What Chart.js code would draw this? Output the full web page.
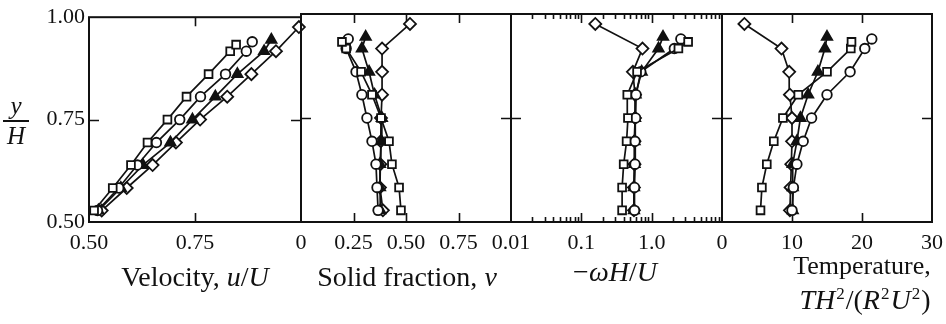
<!DOCTYPE html>
<html>
<head>
<meta charset="utf-8">
<script src="https://cdn.jsdelivr.net/npm/chart.js@4.4.1/dist/chart.umd.min.js"></script>
<style>
  html, body { margin: 0; padding: 0; background: #fff; }
  #figure { position: relative; width: 946px; height: 324px; overflow: hidden;
    font-family: 'Liberation Serif', 'Times New Roman', serif; color: #111; }
  #figure canvas { position: absolute; left: 0; top: 0; }
  .title { position: absolute; font-size: 28px; line-height: 28px; white-space: nowrap; transform: translateX(-50%); }
  .title sup { font-size: 17px; vertical-align: 10px; line-height: 0; padding: 0 1px; }
  .frac { position: absolute; left: 3px; top: 94px; width: 26px; text-align: center;
    font-size: 25px; font-style: italic; line-height: 24px; }
  .frac .bar { height: 2px; background: #111; margin: 2px 0 2px 0; }
</style>
</head>
<body>
<div id="figure">
  <canvas id="velocity" width="1000" height="324"></canvas>
  <canvas id="solid" width="1000" height="324"></canvas>
  <canvas id="spin" width="1000" height="324"></canvas>
  <canvas id="temp" width="1000" height="324"></canvas>

  <div class="frac"><div>y</div><div class="bar"></div><div>H</div></div>
  <div class="title" style="left:195px; top:263px">Velocity, <i>u</i>/<i>U</i></div>
  <div class="title" style="left:407px; top:263px">Solid fraction, <i>ν</i></div>
  <div class="title" style="left:615px; top:258px">−<i>ωH</i>/<i>U</i></div>
  <div class="title" style="left:862px; top:252px; font-size:26px">Temperature,</div>
  <div class="title" style="left:865px; top:286px"><i>TH</i><sup>2</sup>/(<i>R</i><sup>2</sup><i>U</i><sup>2</sup>)</div>
</div>

<script>
// heights y/H of the sampled layers, one list per run
const ySquare   = [0.528, 0.583, 0.639, 0.694, 0.750, 0.806, 0.861, 0.917, 0.933];
const yCircle   = [0.528, 0.583, 0.639, 0.694, 0.750, 0.806, 0.861, 0.917, 0.940];
const yTriangle = [0.528, 0.583, 0.639, 0.694, 0.750, 0.806, 0.861, 0.917, 0.945];
const yDiamond  = [0.528, 0.583, 0.639, 0.694, 0.750, 0.806, 0.861, 0.917, 0.976];

// velocity u/U
const velSquare   = [0.512, 0.556, 0.599, 0.638, 0.685, 0.730, 0.782, 0.833, 0.847];
const velCircle   = [0.520, 0.570, 0.614, 0.659, 0.714, 0.763, 0.822, 0.871, 0.885];
const velTriangle = [0.522, 0.575, 0.627, 0.692, 0.744, 0.798, 0.850, 0.913, 0.930];
const velDiamond  = [0.530, 0.589, 0.650, 0.705, 0.762, 0.826, 0.883, 0.941, 0.995];

// solid fraction nu
const nuSquare   = [0.476, 0.467, 0.433, 0.419, 0.381, 0.338, 0.286, 0.215, 0.195];
const nuCircle   = [0.367, 0.362, 0.357, 0.338, 0.314, 0.290, 0.262, 0.215, 0.225];
const nuTriangle = [0.378, 0.376, 0.376, 0.382, 0.385, 0.350, 0.324, 0.290, 0.308];
const nuDiamond  = [0.390, 0.376, 0.378, 0.380, 0.381, 0.386, 0.386, 0.386, 0.519];

// particle spin -omega H / U (log axis)
const spinSquare   = [0.38, 0.38, 0.40, 0.44, 0.46, 0.45, 0.62, 2.40, 3.30];
const spinCircle   = [0.57, 0.57, 0.58, 0.58, 0.59, 0.60, 0.70, 2.10, 2.60];
const spinTriangle = [0.56, 0.56, 0.57, 0.57, 0.58, 0.59, 0.72, 1.25, 1.45];
const spinDiamond  = [0.56, 0.56, 0.57, 0.57, 0.58, 0.58, 0.54, 0.74, 0.158];

// granular temperature T H^2 / (R^2 U^2)
const tempSquare   = [5.5, 5.7, 6.4, 7.4, 8.7, 10.9, 15.0, 18.4, 18.5];
const tempCircle   = [10.0, 10.2, 10.7, 11.6, 12.8, 15.0, 18.3, 20.4, 21.4];
const tempTriangle = [10.1, 10.1, 10.1, 10.7, 11.2, 12.3, 13.7, 14.7, 15.0];
const tempDiamond  = [9.7, 9.8, 9.9, 10.0, 10.0, 9.7, 9.6, 8.5, 3.2];

// tick values and their printed labels
const yTickVals = [0.5, 0.75, 1.0];
const yTickText = ['0.50', '0.75', '1.00'];
const velTickVals = [0.5, 0.75];
const velTickText = ['0.50', '0.75'];
const nuTickVals = [0, 0.25, 0.5, 0.75];
const nuTickText = ['0', '0.25', '0.50', '0.75'];
const spinTickVals = [0.01, 0.1, 1];
const spinTickText = ['0.01', '0.1', '1.0'];
const tempTickVals = [0, 10, 20, 30];
const tempTickText = ['0', '10', '20', '30'];

// panel edges in pixels; canvases are drawn wider than the page so the
// last tick label never squeezes the right-hand panel
const edges = [89, 301, 511, 722, 932];
const CANVAS_W = 1000;

const INK = '#111';
const FONT = "'Liberation Serif', 'Times New Roman', serif";

// box around each panel plus inward tick marks on all four sides
const panelFrame = {
  id: 'panelFrame',
  beforeDatasetsDraw(chart, args, opts) {
    const { ctx, chartArea: a, scales } = chart;
    ctx.save();
    ctx.strokeStyle = INK;
    ctx.lineWidth = 2;
    ctx.strokeRect(a.left, a.top, a.right - a.left, a.bottom - a.top);
    ctx.lineWidth = 1.6;
    ctx.beginPath();
    (opts.xMarks || []).forEach(([v, len]) => {
      const x = Math.round(scales.x.getPixelForValue(v)) + 0.5;
      ctx.moveTo(x, a.top); ctx.lineTo(x, a.top + len);
      ctx.moveTo(x, a.bottom); ctx.lineTo(x, a.bottom - len);
    });
    (opts.yMarks || []).forEach(([v, len]) => {
      const y = Math.round(scales.y.getPixelForValue(v)) + 0.5;
      ctx.moveTo(a.left, y); ctx.lineTo(a.left + len, y);
      ctx.moveTo(a.right, y); ctx.lineTo(a.right - len, y);
    });
    ctx.stroke();
    ctx.restore();
  }
};

const styles = {
  square:   { pointStyle: 'rect',     pointRadius: 5.5, pointBackgroundColor: '#fff' },
  circle:   { pointStyle: 'circle',   pointRadius: 4.8, pointBackgroundColor: '#fff' },
  triangle: { pointStyle: 'triangle', pointRadius: 6,   pointBackgroundColor: INK },
  diamond:  { pointStyle: 'rectRot',  pointRadius: 6,   pointBackgroundColor: '#fff' }
};

function series(xs, ys, kind) {
  return Object.assign({
    data: xs.map((x, i) => ({ x, y: ys[i] })),
    showLine: true,
    borderColor: INK,
    borderWidth: 1.7,
    pointBorderColor: INK,
    pointBorderWidth: 1.8,
    clip: false
  }, styles[kind]);
}

function makePanel(id, k, xScale, tickVals, tickText, sets, xMarks, showY) {
  new Chart(document.getElementById(id), {
    type: 'scatter',
    data: { datasets: sets },
    options: {
      responsive: false,
      animation: false,
      events: [],
      layout: {
        autoPadding: false,
        padding: { left: showY ? 0 : edges[k], right: CANVAS_W - edges[k + 1], top: 14, bottom: 0 }
      },
      plugins: {
        legend: { display: false },
        tooltip: { enabled: false },
        panelFrame: { xMarks, yMarks: [[0.75, 10]] }
      },
      scales: {
        x: Object.assign({
          position: 'bottom',
          grid: { display: false, drawTicks: false },
          border: { display: false },
          afterBuildTicks: s => { s.ticks = tickVals.map(v => ({ value: v })); },
          afterFit: s => { s.height = 102; },
          ticks: {
            callback: (v, i) => tickText[i],
            font: { family: FONT, size: 22 },
            color: INK,
            padding: 8,
            maxRotation: 0,
            autoSkip: false
          }
        }, xScale),
        y: {
          type: 'linear', min: 0.5, max: 1.0,
          display: showY,
          grid: { display: false, drawTicks: false },
          border: { display: false },
          afterBuildTicks: s => { s.ticks = yTickVals.map(v => ({ value: v })); },
          afterFit: s => { s.width = showY ? edges[0] : 0; },
          ticks: {
            callback: (v, i) => yTickText[i],
            font: { family: FONT, size: 22 },
            color: INK,
            padding: 4,
            autoSkip: false
          }
        }
      }
    },
    plugins: [panelFrame]
  });
}

// log minor ticks for the spin panel
const spinMarks = [];
[0.01, 0.1, 1].forEach(d => {
  for (let m = 2; m <= 9; m++) spinMarks.push([d * m, 5]);
});
spinMarks.push([0.1, 9], [1, 9]);

makePanel('velocity', 0, { type: 'linear', min: 0.5, max: 1.0 }, velTickVals, velTickText, [
  series(velSquare, ySquare, 'square'),
  series(velCircle, yCircle, 'circle'),
  series(velTriangle, yTriangle, 'triangle'),
  series(velDiamond, yDiamond, 'diamond')
], [[0.75, 9]], true);

makePanel('solid', 1, { type: 'linear', min: 0, max: 1.0 }, nuTickVals, nuTickText, [
  series(nuSquare, ySquare, 'square'),
  series(nuCircle, yCircle, 'circle'),
  series(nuTriangle, yTriangle, 'triangle'),
  series(nuDiamond, yDiamond, 'diamond')
], [[0.25, 9], [0.5, 9], [0.75, 9]], false);

makePanel('spin', 2, { type: 'logarithmic', min: 0.01, max: 10 }, spinTickVals, spinTickText, [
  series(spinSquare, ySquare, 'square'),
  series(spinCircle, yCircle, 'circle'),
  series(spinTriangle, yTriangle, 'triangle'),
  series(spinDiamond, yDiamond, 'diamond')
], spinMarks, false);

makePanel('temp', 3, { type: 'linear', min: 0, max: 30 }, tempTickVals, tempTickText, [
  series(tempSquare, ySquare, 'square'),
  series(tempCircle, yCircle, 'circle'),
  series(tempTriangle, yTriangle, 'triangle'),
  series(tempDiamond, yDiamond, 'diamond')
], [[10, 9], [20, 9]], false);
</script>
</body>
</html>
